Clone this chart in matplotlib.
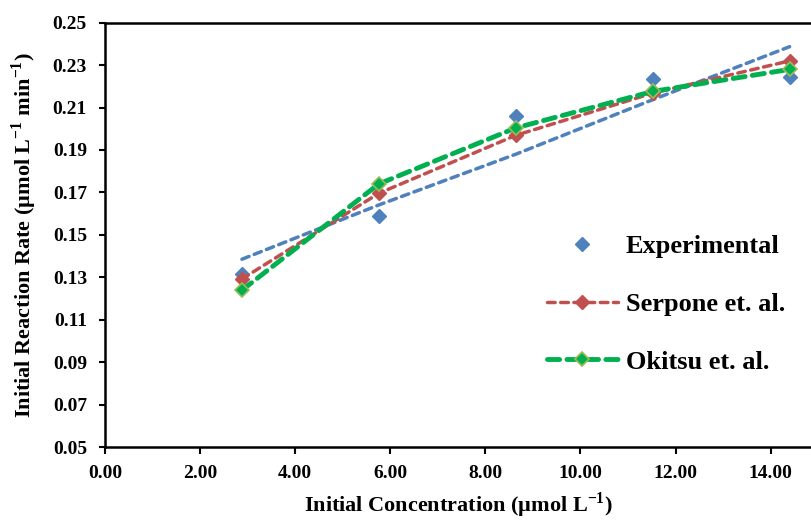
import matplotlib
matplotlib.use("Agg")
import matplotlib.pyplot as plt

plt.rcParams['font.family'] = ['Liberation Serif', 'DejaVu Serif']
plt.rcParams['font.weight'] = 'bold'
plt.rcParams['mathtext.fontset'] = 'custom'
plt.rcParams['mathtext.rm'] = 'Liberation Serif:bold'
plt.rcParams['mathtext.bf'] = 'Liberation Serif:bold'

# initial concentration (umol/L)
conc = [2.88, 5.76, 8.64, 11.52, 14.40]
# measured and modelled initial rates (umol/L/min)
experimental = [0.1317, 0.1589, 0.2058, 0.2234, 0.2242]
exp_trend = [0.1385, 0.1641, 0.1880, 0.2137, 0.2387]
serpone = [0.1292, 0.1696, 0.1969, 0.2168, 0.2320]
okitsu = [0.1239, 0.1740, 0.2004, 0.2176, 0.2280]

blue = '#4F81BD'
red = '#C0504D'
green = '#00B050'

fig = plt.figure(figsize=(8.11, 5.22), dpi=100)
ax = fig.add_axes([105 / 811, 1 - 447 / 522, 1 - 105 / 811, (447 - 22.7) / 522])

ax.plot(conc, exp_trend, color=blue, linestyle=(0, (2.2, 1.6)), linewidth=2.5,
        dash_capstyle='round')
ax.plot(conc, experimental, linestyle='none', marker='D', markersize=7.5,
        color=blue, label='Experimental')
ax.plot(conc, serpone, color=red, linestyle=(0, (2.2, 1.6)), linewidth=2.5,
        dash_capstyle='round', marker='D', markersize=7.5, markerfacecolor=red,
        markeredgecolor=red, label='Serpone et. al.')
ax.plot(conc, okitsu, color=green, linestyle=(0, (2.5, 1.5)), linewidth=3.5,
        dash_capstyle='round', marker='D', markersize=7.5, markerfacecolor=green,
        markeredgecolor='#9BBB59', markeredgewidth=1.2, label='Okitsu et. al.')

ax.set_xlim(0, 14.85)
ax.set_ylim(0.05, 0.25)
xt = [0, 2, 4, 6, 8, 10, 12, 14]
ax.set_xticks(xt)
ax.set_xticklabels(['%.2f' % v for v in xt])
yt = [0.05, 0.07, 0.09, 0.11, 0.13, 0.15, 0.17, 0.19, 0.21, 0.23, 0.25]
ax.set_yticks(yt)
ax.set_yticklabels(['%.2f' % v for v in yt])
ax.tick_params(direction='out', width=1.5, labelsize=14)
ax.tick_params(axis='y', length=4.5, pad=8.5)
ax.tick_params(axis='x', length=5, pad=8)
for s in ['left', 'bottom', 'top']:
    ax.spines[s].set_linewidth(1.8)
ax.spines['right'].set_visible(False)

ax.set_xlabel('Initial Concentration (µmol L$^{-1}$)', fontsize=16, fontweight='bold', labelpad=6)
ax.set_ylabel('Initial Reaction Rate (µmol L$^{-1}$ min$^{-1}$)', fontsize=16, fontweight='bold', labelpad=10)

leg = ax.legend(loc='center left', bbox_to_anchor=(523 / 811, 1 - 304 / 522),
                bbox_transform=fig.transFigure, frameon=False,
                labelspacing=1.3, handlelength=2.7, handletextpad=0.3,
                prop={'weight': 'bold', 'size': 19})

fig.savefig('out.png', dpi=100)
